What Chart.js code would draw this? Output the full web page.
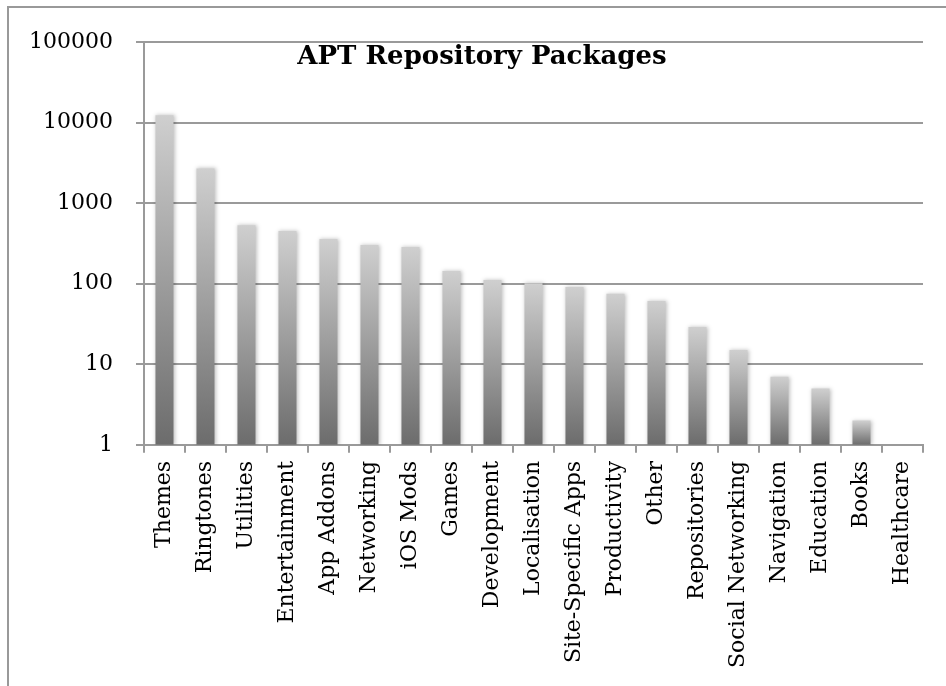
<!DOCTYPE html>
<html>
<head>
<meta charset="utf-8">
<script src="https://cdn.jsdelivr.net/npm/chart.js@4"></script>
<style>
    html, body { margin: 0; padding: 0; background: #fff; }
    #frame {
        position: absolute;
        left: 7px;
        top: 6px;
        width: 939px;
        height: 680px;
        border-top: 2px solid #999;
        border-left: 2px solid #999;
    }
    #wrap { position: absolute; left: 0; top: 0; width: 946px; height: 686px; }
</style>
</head>
<body>
<div id="frame"></div>
<div id="wrap"><canvas id="myChartCanvas" width="946" height="686"></canvas></div>
<script>
let categories = ['Themes', 'Ringtones', 'Utilities', 'Entertainment', 'App Addons', 'Networking',
    'iOS Mods', 'Games', 'Development', 'Localisation', 'Site-Specific Apps', 'Productivity',
    'Other', 'Repositories', 'Social Networking', 'Navigation', 'Education', 'Books', 'Healthcare'];
let packageCounts = [12300, 2700, 530, 450, 360, 303, 286, 144, 111, 101, 91, 75, 61, 29, 15, 7, 5, 2, 1];
let yTicks = [1, 10, 100, 1000, 10000, 100000];

let chartTitle = 'APT Repository Packages';
let serif = 'DejaVu Serif';

// per bar gradient, dark at the base, light at the top
function barGradient(context) {
    let chart = context.chart;
    let area = chart.chartArea;
    if (!area || context.parsed === undefined) {
        return '#999';
    }
    let yScale = chart.scales.y;
    let top = yScale.getPixelForValue(context.parsed.y);
    let bottom = area.bottom;
    if (bottom - top < 1) {
        top = bottom - 1;
    }
    let g = chart.ctx.createLinearGradient(0, top, 0, bottom);
    g.addColorStop(0, '#cfcfcf');
    g.addColorStop(1, '#6c6c6c');
    return g;
}

// title sits inside the plot area
const insideTitle = {
    id: 'insideTitle',
    afterDraw(chart) {
        let c = chart.ctx;
        c.save();
        c.font = 'bold 26px "' + serif + '"';
        c.fillStyle = '#000';
        c.textAlign = 'center';
        c.textBaseline = 'middle';
        c.fillText(chartTitle, 482, 57);
        c.restore();
    }
};

// soft shadow round the bars
const barShadow = {
    id: 'barShadow',
    beforeDatasetsDraw(chart) {
        chart.ctx.save();
        chart.ctx.shadowColor = 'rgba(0,0,0,0.25)';
        chart.ctx.shadowBlur = 4;
        chart.ctx.shadowOffsetX = 1;
        chart.ctx.shadowOffsetY = 0;
    },
    afterDatasetsDraw(chart) {
        chart.ctx.restore();
    }
};

let ctx = document.getElementById('myChartCanvas').getContext('2d');
let chart = new Chart(ctx, {
    type: 'bar',
    data: {
        labels: categories,
        datasets: [{
            data: packageCounts,
            backgroundColor: barGradient,
            borderWidth: 0,
            barPercentage: 0.44,
            categoryPercentage: 1.0
        }]
    },
    plugins: [barShadow, insideTitle],
    options: {
        responsive: false,
        animation: false,
        layout: {
            padding: { left: 6, right: 23, top: 42, bottom: 10 }
        },
        plugins: {
            legend: { display: false },
            title: { display: false },
            tooltip: { enabled: false }
        },
        scales: {
            x: {
                offset: true,
                border: { display: true, color: '#9a9a9a', width: 2 },
                grid: {
                    offset: true,
                    drawOnChartArea: false,
                    drawTicks: true,
                    tickLength: 8,
                    color: '#9a9a9a',
                    lineWidth: 2
                },
                ticks: {
                    autoSkip: false,
                    maxRotation: 90,
                    minRotation: 90,
                    padding: 8,
                    color: '#000',
                    font: { family: serif, size: 22 }
                }
            },
            y: {
                type: 'logarithmic',
                min: 1,
                max: 100000,
                border: { display: true, color: '#9a9a9a', width: 2 },
                afterBuildTicks: function (axis) {
                    axis.ticks = yTicks.map(function (v) { return { value: v, major: true }; });
                },
                grid: {
                    color: '#9a9a9a',
                    lineWidth: 2,
                    tickLength: 8
                },
                ticks: {
                    padding: 23,
                    color: '#000',
                    font: { family: serif, size: 22 },
                    callback: function (value) { return String(value); }
                }
            }
        }
    }
});
</script>
</body>
</html>
